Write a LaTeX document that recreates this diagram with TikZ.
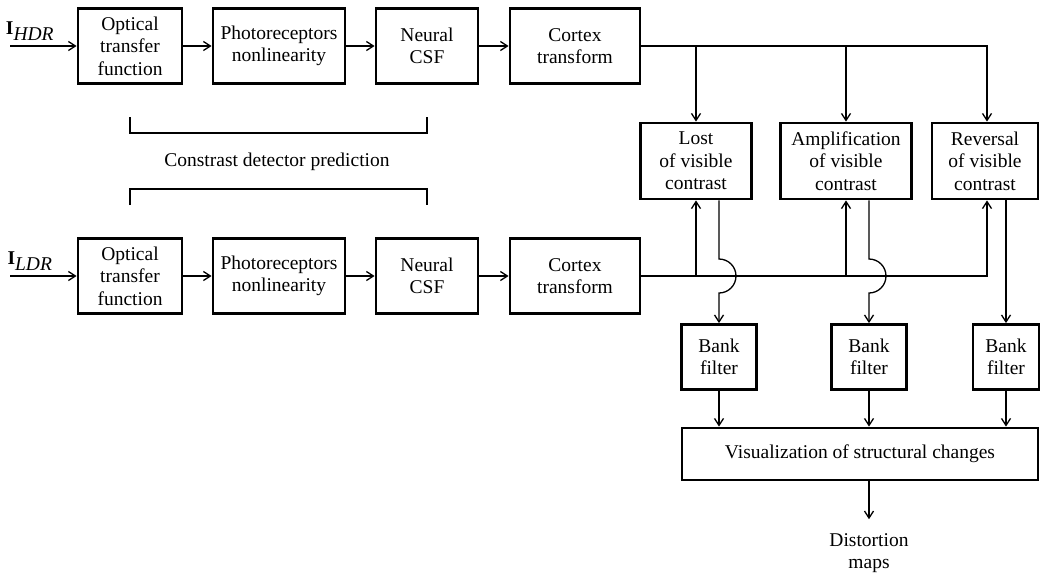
\documentclass[tikz,border=0pt]{standalone}
\usepackage{fontspec}
\setmainfont{Liberation Serif}
\usetikzlibrary{arrows.meta}

\tikzset{
    block/.style={draw, line width=2.8pt, align=center, inner sep=2pt, minimum height=75pt},
    bankbox/.style={block, minimum width=75pt, minimum height=65pt},
}

\begin{document}
\begin{tikzpicture}[x=1pt, y=-1pt, line width=1.3pt, font=\fontsize{19.5}{22.5}\selectfont,
        >={Straight Barb[length=7pt, width=9pt]}]
            \useasboundingbox (0,0) rectangle (1041,574);

            % HDR chain
            \node[block, minimum width=104pt] (ohdr) at (130,46) {Optical\\transfer\\function};
            \node[block, minimum width=132pt] (phdr) at (279,46) {Photoreceptors\\nonlinearity};
            \node[block, minimum width=102pt] (nhdr) at (427,46) {Neural\\CSF};
            \node[block, minimum width=130pt] (chdr) at (575,46) {Cortex\\transform};

            % LDR chain
            \node[block, minimum width=104pt] (oldr) at (130,276) {Optical\\transfer\\function};
            \node[block, minimum width=132pt] (pldr) at (279,276) {Photoreceptors\\nonlinearity};
            \node[block, minimum width=102pt] (nldr) at (427,276) {Neural\\CSF};
            \node[block, minimum width=130pt] (cldr) at (575,276) {Cortex\\transform};

            \coordinate (ihdr) at (10,46);
            \coordinate (ildr) at (10,276);
            \node (lhdr) at (30,31) {$\textbf{I}_{\textit{HDR}}$};
            \node (lldr) at (30,261) {$\textbf{I}_{\textit{LDR}}$};

            % metrics
            \node[block, minimum width=111pt, minimum height=76pt] (lost) at (696,161) {Lost\\of visible\\contrast};
            \node[block, minimum width=131pt, minimum height=76pt] (ampl) at (846,161) {Amplification\\of visible\\contrast};
            \node[block, minimum width=106pt, minimum height=76pt] (rev) at (985,161) {Reversal\\of visible\\contrast};

            \node[bankbox] (bank1) at (719,357) {Bank\\filter};
            \node[bankbox] (bank2) at (869,357) {Bank\\filter};
            \node[bankbox, minimum width=66pt] (bank3) at (1006,357) {Bank\\filter};

            \node[block, minimum width=356pt, minimum height=52pt] (vis) at (860,454) {Visualization of structural changes};
            \node[align=center] (dist) at (869,553) {Distortion\\maps};

            \node (cdp) at (277,162) {Constrast detector prediction};
            \draw (ohdr |- 0,117) -- (ohdr |- 0,133) -- (nhdr |- 0,133) -- (nhdr |- 0,117);
            \draw (oldr |- 0,205) -- (oldr |- 0,189) -- (nldr |- 0,189) -- (nldr |- 0,205);

            \draw[->] (ihdr) -- (ohdr);
            \draw[->] (ohdr) -- (phdr);
            \draw[->] (phdr) -- (nhdr);
            \draw[->] (nhdr) -- (chdr);
            \draw[->] (ildr) -- (oldr);
            \draw[->] (oldr) -- (pldr);
            \draw[->] (pldr) -- (nldr);
            \draw[->] (nldr) -- (cldr);

            \coordinate (t3) at (987,46);
            \coordinate (b3) at (987,276);
            \draw[->] (chdr.east) -- (t3) -- (t3 |- rev.north);
            \draw[->] (chdr.east -| lost) -- (lost);
            \draw[->] (chdr.east -| ampl) -- (ampl);
            \draw[->] (cldr.east) -- (b3) -- (b3 |- rev.south);
            \draw[->] (cldr.east -| lost) -- (lost);
            \draw[->] (cldr.east -| ampl) -- (ampl);

            % jumps over the LDR line
            \draw[->] (bank1 |- lost.south) -- ([yshift=17pt]bank1 |- cldr.east) arc[start angle=90, end angle=-90, radius=17pt] -- (bank1);
            \draw[->] (bank2 |- ampl.south) -- ([yshift=17pt]bank2 |- cldr.east) arc[start angle=90, end angle=-90, radius=17pt] -- (bank2);
            \draw[->] (bank3 |- rev.south) -- (bank3);

            \draw[->] (bank1) -- (bank1 |- vis.north);
            \draw[->] (bank2) -- (bank2 |- vis.north);
            \draw[->] (bank3) -- (bank3 |- vis.north);
            \draw[->, shorten >=10pt] (vis.south -| dist) -- (dist);
        \end{tikzpicture}
\end{document}
